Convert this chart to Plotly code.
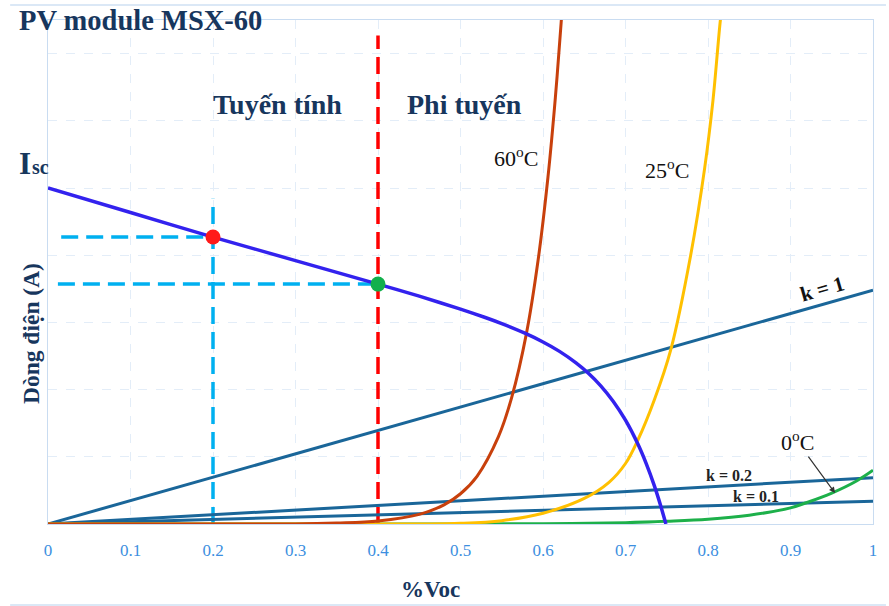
import plotly.graph_objects as go

# Relative voltage (fraction of Voc) and module current for the PV curve
pv_x = [0.0, 0.1, 0.2, 0.3, 0.4, 0.45, 0.5, 0.53, 0.55, 0.578, 0.6, 0.62, 0.64, 0.655,
        0.67, 0.685, 0.7, 0.715, 0.725, 0.735, 0.742, 0.749]
pv_i = [5.0, 4.635, 4.27, 3.92, 3.57, 3.39, 3.198, 3.073, 2.982, 2.84, 2.709, 2.569, 2.398, 2.243,
        2.056, 1.827, 1.544, 1.19, 0.903, 0.568, 0.299, 0.0]

# Load curves at three cell temperatures
t60_x = [0.0, 0.3, 0.35, 0.4, 0.45, 0.48, 0.5, 0.52, 0.546, 0.562, 0.58, 0.594, 0.606, 0.615, 0.622, 0.626]
t60_i = [0.0, 0.0, 0.014, 0.045, 0.143, 0.285, 0.45, 0.71, 1.3, 1.88, 2.84, 3.92, 5.16, 6.35, 7.46, 8.18]

t25_x = [0.0, 0.45, 0.5, 0.55, 0.6, 0.65, 0.68, 0.7, 0.715, 0.735, 0.755, 0.779, 0.796, 0.806, 0.815, 0.82]
t25_i = [0.0, 0.0, 0.01, 0.05, 0.16, 0.38, 0.62, 0.9, 1.25, 1.85, 2.6, 4.0, 5.3, 6.3, 7.5, 8.0]

t0_x = [0.0, 0.5, 0.6, 0.7, 0.75, 0.8, 0.85, 0.9, 0.92, 0.95, 0.98, 1.0]
t0_i = [0.0, 0.0, 0.005, 0.02, 0.04, 0.07, 0.13, 0.24, 0.32, 0.46, 0.64, 0.8]

# Straight load lines I = k * slope * V
k_values = [1, 0.2, 0.1]
k_end_i = [3.48, 0.69, 0.34]

# Operating points
op_x = [0.2, 0.4]
op_i = [4.27, 3.57]
op_colors = ["#ff1a1a", "#12b04c"]

x_ticks = [0, 0.1, 0.2, 0.3, 0.4, 0.5, 0.6, 0.7, 0.8, 0.9, 1]
x_tick_text = ["0", "0.1", "0.2", "0.3", "0.4", "0.5", "0.6", "0.7", "0.8", "0.9", "1"]

SERIF = "Liberation Serif, Times New Roman, serif"
NAVY = "#17365d"
DASH = "17px,8px"

fig = go.Figure()

# Guide lines for the linear / non-linear boundary and the operating points
fig.add_trace(go.Scatter(x=[0.4, 0.4], y=[0, 7.27], mode="lines",
                         line=dict(color="#ff0000", width=3.5, dash=DASH), hoverinfo="skip"))
fig.add_trace(go.Scatter(x=[0.2, 0.2], y=[0, 4.84], mode="lines",
                         line=dict(color="#00b0f0", width=3.5, dash=DASH), hoverinfo="skip"))
fig.add_trace(go.Scatter(x=[0.016, op_x[0]], y=[op_i[0], op_i[0]], mode="lines",
                         line=dict(color="#00b0f0", width=3.5, dash=DASH), hoverinfo="skip"))
fig.add_trace(go.Scatter(x=[0.012, op_x[1]], y=[op_i[1], op_i[1]], mode="lines",
                         line=dict(color="#00b0f0", width=3.5, dash=DASH), hoverinfo="skip"))

# Load lines
for k, end_i in zip(k_values, k_end_i):
    fig.add_trace(go.Scatter(x=[0, 1], y=[0, end_i], mode="lines",
                             line=dict(color="#1a6699", width=3), name=f"k = {k}"))

# Temperature curves
fig.add_trace(go.Scatter(x=t0_x, y=t0_i, mode="lines", line=dict(color="#1db04a", width=3, shape="spline"), name="0°C"))
fig.add_trace(go.Scatter(x=t25_x, y=t25_i, mode="lines", line=dict(color="#ffc000", width=3, shape="spline"), name="25°C"))
fig.add_trace(go.Scatter(x=t60_x, y=t60_i, mode="lines", line=dict(color="#c8400c", width=3, shape="spline"), name="60°C"))

# PV characteristic
fig.add_trace(go.Scatter(x=pv_x, y=pv_i, mode="lines", line=dict(color="#3322ee", width=3.5, shape="spline", smoothing=0.6), name="PV"))

fig.add_trace(go.Scatter(x=op_x, y=op_i, mode="markers",
                         marker=dict(color=op_colors, size=15), hoverinfo="skip"))

def px_x(p):
    return (p - 48) / 828

def px_y(p):
    return (524 - p) / 504

ann = []
def text(t, x, y, size, color=NAVY, bold=True, xanchor="center", angle=0, yanchor="middle"):
    ann.append(dict(text=f"<b>{t}</b>" if bold else t, x=x, y=y, xref="paper", yref="paper",
                    showarrow=False, xanchor=xanchor, yanchor=yanchor, textangle=angle,
                    font=dict(family=SERIF, size=size, color=color)))

text("PV module MSX-60", px_x(17), px_y(21), 28.5, xanchor="left")
text("I", px_x(17), px_y(183), 31, xanchor="left", yanchor="bottom")
text("sc", px_x(30), px_y(180), 20, xanchor="left", yanchor="bottom")
text("Tuyến tính", px_x(278), px_y(105), 28)
text("Phi tuyến", px_x(466), px_y(105), 28)
text("60<sup>o</sup>C", px_x(518), px_y(157), 22, color="#111111", bold=False)
text("25<sup>o</sup>C", px_x(669), px_y(169), 22, color="#111111", bold=False)
text("k = 1", px_x(825), px_y(289), 21, color="#111111", angle=-16)
text("k = 0.2", px_x(731), px_y(475), 16, color="#222222")
text("k = 0.1", px_x(759), px_y(496), 16, color="#222222")
text("Dòng điện (A)", px_x(31), px_y(334), 23.5, angle=-90)
text("%Voc", px_x(432), px_y(589), 23)

ann.append(dict(text="0<sup>o</sup>C", x=0.954, y=0.46, xref="x", yref="y",
                ax=-38, ay=-52, showarrow=True, arrowhead=2, arrowsize=1, arrowwidth=1.2,
                arrowcolor="#333333", font=dict(family=SERIF, size=22, color="#111111")))

# Thin frame rules above and below the chart
shapes = [
    dict(type="line", xref="paper", yref="paper", x0=px_x(10), x1=px_x(889), y0=px_y(5), y1=px_y(5),
         line=dict(color="#cfe0f3", width=1.5)),
    dict(type="line", xref="paper", yref="paper", x0=px_x(10), x1=px_x(889), y0=px_y(605), y1=px_y(605),
         line=dict(color="#cfe0f3", width=1.5)),
]

fig.update_layout(
    width=889, height=606,
    margin=dict(l=48, r=13, t=20, b=82),
    paper_bgcolor="white", plot_bgcolor="white",
    showlegend=False,
    annotations=ann,
    shapes=shapes,
    xaxis=dict(range=[0, 1], tickvals=x_ticks, ticktext=x_tick_text,
               showgrid=True, gridcolor="#e3edf8", griddash="dash", gridwidth=1,
               zeroline=False, showline=True, linecolor="#c9dcf1", mirror=True,
               ticks="outside", ticklen=11, tickcolor="rgba(0,0,0,0)",
               tickfont=dict(family=SERIF, size=17, color="#3d8fe0")),
    yaxis=dict(range=[0, 7.5], dtick=1, showticklabels=False,
               showgrid=True, gridcolor="#e3edf8", griddash="dash", gridwidth=1,
               zeroline=False, showline=True, linecolor="#c9dcf1", mirror=True),
)

fig.write_html("out.html")
